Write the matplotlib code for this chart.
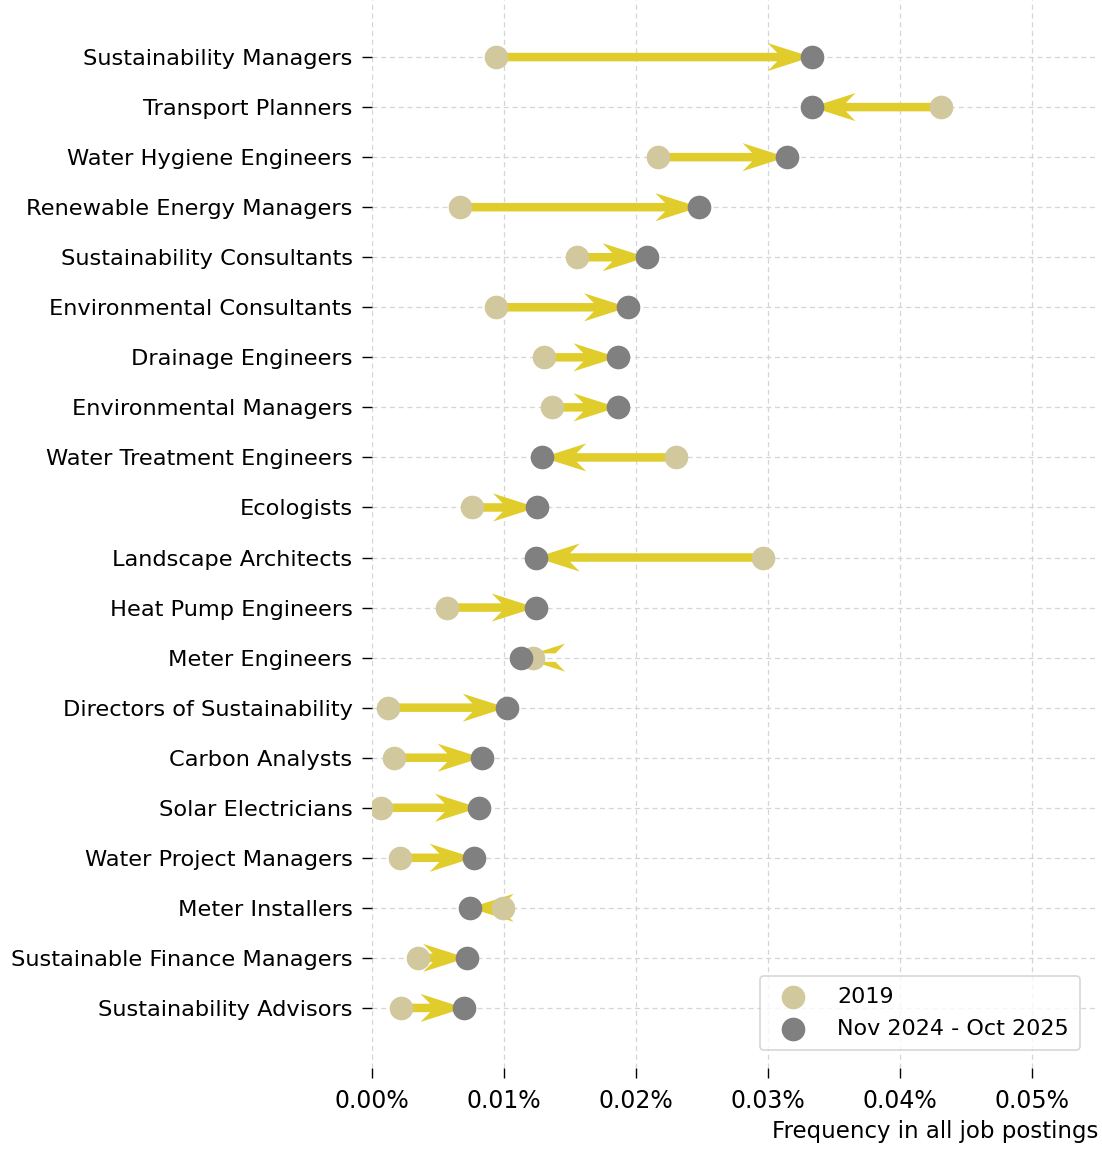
import matplotlib
matplotlib.use("Agg")
import matplotlib.pyplot as plt
from matplotlib.ticker import FuncFormatter

plt.rcParams['font.family'] = ['DejaVu Sans']

roles = [
    "Sustainability Managers", "Transport Planners", "Water Hygiene Engineers",
    "Renewable Energy Managers", "Sustainability Consultants", "Environmental Consultants",
    "Drainage Engineers", "Environmental Managers", "Water Treatment Engineers",
    "Ecologists", "Landscape Architects", "Heat Pump Engineers", "Meter Engineers",
    "Directors of Sustainability", "Carbon Analysts", "Solar Electricians",
    "Water Project Managers", "Meter Installers", "Sustainable Finance Managers",
    "Sustainability Advisors",
]
freq_2019 = [0.0094, 0.0431, 0.0217, 0.0067, 0.0155, 0.0094, 0.0130, 0.0136, 0.0230,
             0.0076, 0.0296, 0.0057, 0.0122, 0.0012, 0.0017, 0.0007, 0.0021, 0.0099,
             0.0035, 0.0022]
freq_recent = [0.0333, 0.0333, 0.0314, 0.0248, 0.0208, 0.0194, 0.0186, 0.0186, 0.0129,
               0.0125, 0.0124, 0.0124, 0.0113, 0.0102, 0.0083, 0.0081, 0.0077, 0.0074,
               0.0072, 0.0070]
xticks = [0.00, 0.01, 0.02, 0.03, 0.04, 0.05]

c_old = "#d2c89d"
c_new = "#808080"
c_arrow = "#e0cd2c"

fig = plt.figure(figsize=(11.02, 11.49), dpi=100)
ax = fig.add_axes([0.3376, 0.0705, 0.6588, 0.9295])

n = len(roles)
ys = list(range(n - 1, -1, -1))

for y, a, b in zip(ys, freq_2019, freq_recent):
    ax.arrow(a, y, b - a, 0, width=0.17, head_width=0.56, head_length=0.00333,
             overhang=0.22, length_includes_head=True, color=c_arrow, lw=0, zorder=2)

ax.scatter(freq_2019, ys, s=290, color=c_old, zorder=3, label="2019", lw=0)
ax.scatter(freq_recent, ys, s=290, color=c_new, zorder=4, label="Nov 2024 - Oct 2025", lw=0)

ax.set_yticks(ys)
ax.set_yticklabels(roles, fontsize=16.2)
ax.set_xticks(xticks)
ax.xaxis.set_major_formatter(FuncFormatter(lambda v, p: f"{v:.2f}%"))
ax.tick_params(axis='x', labelsize=17, length=7, width=1, pad=8)
ax.tick_params(axis='y', length=7, width=1, pad=7)
ax.set_xlim(0, 0.055)
ax.set_ylim(-1.2, n - 1 + 1.14)

for s in ax.spines.values():
    s.set_visible(False)
ax.grid(True, linestyle=(0, (4, 3)), color="#d5d5d5", lw=0.9)
ax.set_axisbelow(True)

ax.set_xlabel("Frequency in all job postings", loc='right', fontsize=16.5, labelpad=5)

leg = ax.legend(loc='lower right', fontsize=16, frameon=True, fancybox=True,
                edgecolor="#cccccc", borderpad=0.5, handletextpad=1.0, labelspacing=0.55,
                borderaxespad=0.8)
leg.get_frame().set_linewidth(1.2)

fig.savefig("out.png", dpi=100)
